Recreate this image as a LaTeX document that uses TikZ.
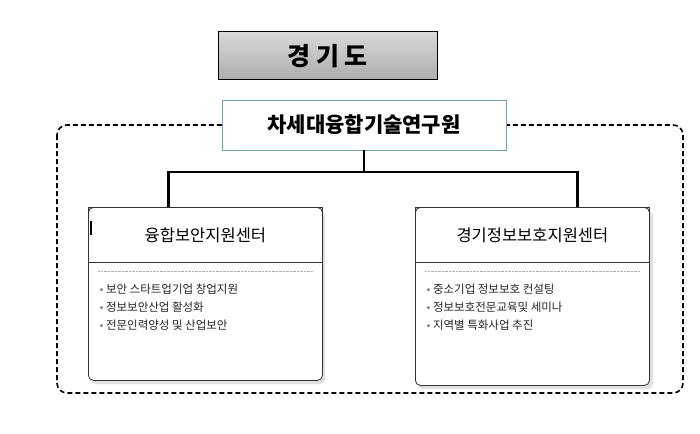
\documentclass[tikz,border=0pt]{standalone}
\usepackage{fontspec}
\setmainfont{Noto Sans CJK KR}
\usetikzlibrary{positioning}
\tikzset{
  topbox/.style={draw=black, line width=1pt, top color=gray!30, bottom color=gray!65, minimum width=219pt, minimum height=48pt, font=\bfseries\fontsize{25}{28}\selectfont},
  instbox/.style={draw=cyan!40!gray, line width=0.8pt, fill=white, minimum width=284pt, minimum height=50pt, font=\bfseries\fontsize{21}{24}\selectfont},
  centerbox/.style={draw=black!80, line width=0.8pt, rounded corners=5pt, fill=white, minimum width=234pt, minimum height=173pt},
  titlebar/.style={draw=black!80, line width=0.8pt, minimum width=234pt, minimum height=55pt, font=\fontsize{16.5}{18}\selectfont},
  items/.style={align=left, font=\fontsize{11.5}{18}\selectfont, text=black!85, anchor=north west},
  link/.style={line width=2.5pt}
}
\newcommand{\itm}{{\color{gray}\textbullet}\ }
\begin{document}
\begin{tikzpicture}[x=1pt,y=-1pt]
\useasboundingbox (0,0) rectangle (700,433);
% outer dashed frame
\draw[dash pattern=on 5pt off 3pt, line width=1.6pt, rounded corners=10pt] (57,125) rectangle (683,393);
% top boxes
\node[topbox] (gyeonggi) at (327.5,56) {경 기 도};
\node[instbox] (institute) at (364,125) {차세대융합기술연구원};
% centres
\fill[gray!25, rounded corners=5pt] (91,211) rectangle (325,384);
\fill[gray!25, rounded corners=5pt] (418,211) rectangle (653,389);
\node[centerbox, anchor=north west] (left) at (88,207) {};
\node[centerbox, anchor=north west, minimum height=178pt] (right) at (415,207) {};
\node[titlebar, anchor=north] (lefttitle) at (left.north) {융합보안지원센터};
\node[titlebar, anchor=north] (righttitle) at (right.north) {경기정보보호지원센터};
\draw[line width=1.2pt] ([xshift=3pt,yshift=14pt]lefttitle.west) -- ++(0,14);
\draw[gray!60, densely dotted] ([xshift=10pt,yshift=-8pt]lefttitle.south west) -- ([xshift=-10pt,yshift=-8pt]lefttitle.south east);
\draw[gray!60, densely dotted] ([xshift=10pt,yshift=-8pt]righttitle.south west) -- ([xshift=-10pt,yshift=-8pt]righttitle.south east);
\node[items] (leftitems) at ([xshift=8pt,yshift=-18pt]lefttitle.south west) {\itm 보안 스타트업기업 창업지원\\ \itm 정보보안산업 활성화\\ \itm 전문인력양성 및 산업보안};
\node[items] (rightitems) at ([xshift=8pt,yshift=-18pt]righttitle.south west) {\itm 중소기업 정보보호 컨설팅\\ \itm 정보보호전문교육및 세미나\\ \itm 지역별 특화사업 추진};
% connectors
\coordinate (split) at (364,172);
\draw[link] (institute.south) -- (split);
\draw[link] (split) -| ([xshift=-37pt]lefttitle.north);
\draw[link] (split) -| ([xshift=45pt]righttitle.north);
\end{tikzpicture}
\end{document}
